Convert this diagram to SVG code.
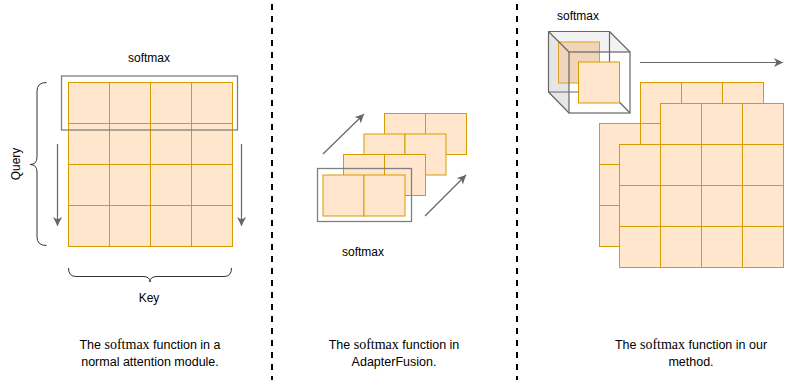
<svg xmlns="http://www.w3.org/2000/svg" xmlns:xlink="http://www.w3.org/1999/xlink" width="799" height="380" viewBox="0 0 799 380">
  <style>
    .cell { fill: #ffe6cc; stroke: #d79b00; stroke-width: 1; }
    .box { fill: none; stroke: #808080; stroke-width: 1.3; }
    .arrow { fill: none; stroke: #666666; stroke-width: 1.2; marker-end: url(#ah); }
    .brace { fill: none; stroke: #333333; stroke-width: 1; }
    .lbl { font-family: "Liberation Sans", Arial, sans-serif; font-size: 12px; fill: #000; }
    .cap { font-family: "Liberation Sans", Arial, sans-serif; font-size: 12.5px; fill: #000; text-anchor: middle; }
    .math { font-family: "Liberation Serif", "Times New Roman", serif; font-size: 14px; }
    .sep { stroke: #000; stroke-width: 2; stroke-dasharray: 6 6; }
    .edge { fill: none; stroke: #666666; stroke-width: 1.2; }
  </style>
  <defs>
    <rect id="c" class="cell" width="41" height="41"/>
    <marker id="ah" markerUnits="userSpaceOnUse" markerWidth="10" markerHeight="9" refX="9" refY="4.5" orient="auto">
      <path d="M0 0 L9 4.5 L0 9 L2.5 4.5 Z" fill="#666666"/>
    </marker>
  </defs>

  <!-- separators -->
  <g id="separators">
    <line class="sep" x1="272" y1="4" x2="272" y2="380"/>
    <line class="sep" x1="517" y1="4" x2="517" y2="380"/>
  </g>

  <!-- Left panel -->
  <g id="grid-normal">
    <use href="#c" x="68.5" y="82.5"/><use href="#c" x="109.5" y="82.5"/><use href="#c" x="150.5" y="82.5"/><use href="#c" x="191.5" y="82.5"/>
    <use href="#c" x="68.5" y="123.5"/><use href="#c" x="109.5" y="123.5"/><use href="#c" x="150.5" y="123.5"/><use href="#c" x="191.5" y="123.5"/>
    <use href="#c" x="68.5" y="164.5"/><use href="#c" x="109.5" y="164.5"/><use href="#c" x="150.5" y="164.5"/><use href="#c" x="191.5" y="164.5"/>
    <use href="#c" x="68.5" y="205.5"/><use href="#c" x="109.5" y="205.5"/><use href="#c" x="150.5" y="205.5"/><use href="#c" x="191.5" y="205.5"/>
  </g>
  <g id="softmax-row">
    <rect class="box" x="61.5" y="76" width="176" height="54"/>
    <text class="lbl" x="149" y="61.5" text-anchor="middle">softmax</text>
  </g>
  <g id="query-brace">
    <path class="brace" d="M46.5 82.5 Q37 82.5 37 91 L37 157 Q37 164.5 30 164.5 Q37 164.5 37 172 L37 237 Q37 245.5 46.5 245.5"/>
    <text class="lbl" transform="translate(20 164) rotate(-90)" text-anchor="middle">Query</text>
  </g>
  <g id="key-brace">
    <path class="brace" d="M68.5 268 Q68.5 276.5 76 276.5 L143 276.5 Q150 276.5 150 282 Q150 276.5 157 276.5 L224 276.5 Q231.5 276.5 231.5 268"/>
    <text class="lbl" x="149" y="301.5" text-anchor="middle">Key</text>
  </g>

  <!-- Middle panel -->
  <g id="stack-adapter">
    <use href="#c" x="384.5" y="113.5"/><use href="#c" x="425.5" y="113.5"/>
    <use href="#c" x="364" y="134"/><use href="#c" x="405" y="134"/>
    <use href="#c" x="343.5" y="154.5"/><use href="#c" x="384.5" y="154.5"/>
    <use href="#c" x="323" y="175"/><use href="#c" x="364" y="175"/>
  </g>
  <g id="softmax-adapter">
    <rect class="box" x="317.5" y="168.5" width="94" height="53"/>
    <text class="lbl" x="363" y="256" text-anchor="middle">softmax</text>
  </g>

  <!-- Right panel -->
  <g id="softmax-cube">
    <polygon points="548.5,31.5 569,52 569,113 548.5,92" fill="#e6e6e6"/>
    <polygon points="548.5,31.5 609.5,31.5 630,52 569,52" fill="#f2f2f2"/>
    <rect x="558.5" y="42" width="41" height="41" fill="#f0d5ba" stroke="#d9a030" stroke-width="1"/>
    <path class="edge" d="M548.5 31.5 H609.5 V92 H548.5 Z M548.5 31.5 L569 52 M609.5 31.5 L630 52 M548.5 92 L569 113 M609.5 92 L630 113"/>
    <rect class="edge" x="569" y="52" width="61" height="61"/>
    <rect class="cell" x="578.5" y="62" width="41" height="41"/>
    <text class="lbl" x="578" y="20" text-anchor="middle">softmax</text>
  </g>
  <g id="grid-a">
    <use href="#c" x="640.5" y="82.5"/><use href="#c" x="681.5" y="82.5"/><use href="#c" x="722.5" y="82.5"/>
    <use href="#c" x="640.5" y="123.5"/><use href="#c" x="681.5" y="123.5"/><use href="#c" x="722.5" y="123.5"/>
    <use href="#c" x="640.5" y="164.5"/><use href="#c" x="681.5" y="164.5"/><use href="#c" x="722.5" y="164.5"/>
  </g>
  <g id="grid-d">
    <use href="#c" x="599.5" y="123.5"/><use href="#c" x="640.5" y="123.5"/><use href="#c" x="681.5" y="123.5"/><use href="#c" x="722.5" y="123.5"/>
    <use href="#c" x="599.5" y="164.5"/><use href="#c" x="640.5" y="164.5"/><use href="#c" x="681.5" y="164.5"/><use href="#c" x="722.5" y="164.5"/>
    <use href="#c" x="599.5" y="205.5"/><use href="#c" x="640.5" y="205.5"/><use href="#c" x="681.5" y="205.5"/><use href="#c" x="722.5" y="205.5"/>
  </g>
  <g id="grid-b">
    <use href="#c" x="660.5" y="103.5"/><use href="#c" x="701.5" y="103.5"/><use href="#c" x="742.5" y="103.5"/>
    <use href="#c" x="660.5" y="144.5"/><use href="#c" x="701.5" y="144.5"/><use href="#c" x="742.5" y="144.5"/>
    <use href="#c" x="660.5" y="185.5"/><use href="#c" x="701.5" y="185.5"/><use href="#c" x="742.5" y="185.5"/>
  </g>
  <g id="grid-c">
    <use href="#c" x="619.5" y="144.5"/><use href="#c" x="660.5" y="144.5"/><use href="#c" x="701.5" y="144.5"/><use href="#c" x="742.5" y="144.5"/>
    <use href="#c" x="619.5" y="185.5"/><use href="#c" x="660.5" y="185.5"/><use href="#c" x="701.5" y="185.5"/><use href="#c" x="742.5" y="185.5"/>
    <use href="#c" x="619.5" y="226.5"/><use href="#c" x="660.5" y="226.5"/><use href="#c" x="701.5" y="226.5"/><use href="#c" x="742.5" y="226.5"/>
  </g>

  <!-- connectors -->
  <g id="connectors">
    <line class="arrow" x1="57.5" y1="144" x2="57.5" y2="226"/>
    <line class="arrow" x1="241.5" y1="144" x2="241.5" y2="226"/>
    <line class="arrow" x1="323" y1="154" x2="364" y2="114"/>
    <line class="arrow" x1="425" y1="216" x2="466" y2="175"/>
    <line class="arrow" x1="640" y1="62.5" x2="783" y2="62.5"/>
  </g>

  <!-- captions -->
  <g id="captions">
    <text class="cap" x="150" y="349">The <tspan class="math">softmax</tspan> function in a</text>
    <text class="cap" x="150" y="366">normal attention module.</text>
    <text class="cap" x="394" y="349">The <tspan class="math">softmax</tspan> function in</text>
    <text class="cap" x="394" y="366">AdapterFusion.</text>
    <text class="cap" x="691" y="349">The <tspan class="math">softmax</tspan> function in our</text>
    <text class="cap" x="691" y="366">method.</text>
  </g>
</svg>
